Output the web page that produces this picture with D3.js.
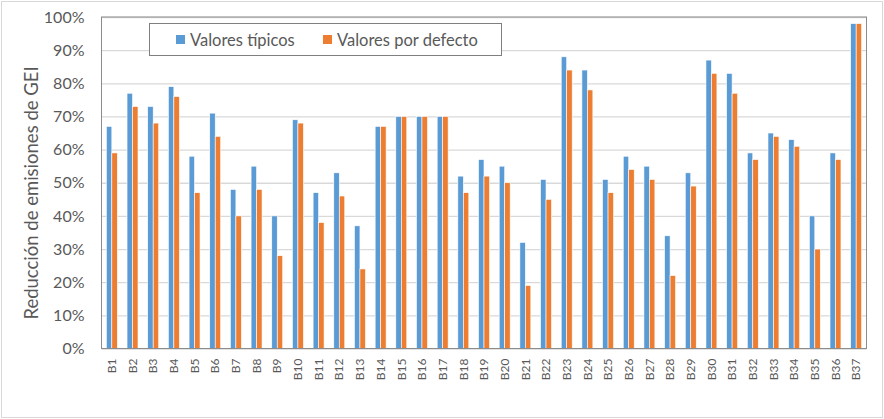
<!DOCTYPE html>
<html>
<head>
<meta charset="utf-8">
<script src="https://cdn.jsdelivr.net/npm/d3@7"></script>
<style>
  html, body { margin: 0; padding: 0; background: #fff; }
  svg { display: block; font-family: Lato, "Liberation Sans", sans-serif; }
</style>
</head>
<body>
<div id="chart"></div>
<script>
/* ---------- Data ---------- */
const categories = d3.range(1, 38).map(i => `B${i}`);
const seriesNames = ["Valores típicos", "Valores por defecto"];
const tipicos = [67, 77, 73, 79, 58, 71, 48, 55, 40, 69, 47, 53, 37, 67, 70, 70, 70, 52, 57, 55,
                 32, 51, 88, 84, 51, 58, 55, 34, 53, 87, 83, 59, 65, 63, 40, 59, 98];
const defecto = [59, 73, 68, 76, 47, 64, 40, 48, 28, 68, 38, 46, 24, 67, 70, 70, 70, 47, 52, 50,
                 19, 45, 84, 78, 47, 54, 51, 22, 49, 83, 77, 57, 64, 61, 30, 57, 98];
const yTicks = d3.range(0, 101, 10);
const colors = ["#5B9BD5", "#ED7D31"];

const rows = categories.map((c, i) => ({ cat: c, values: [tipicos[i], defecto[i]] }));

/* ---------- Layout ---------- */
const W = 884, H = 419;
const M = { top: 17, right: 17.5, bottom: 70.5, left: 101.5 };

const svg = d3.select("#chart").append("svg")
  .attr("width", W).attr("height", H);

// outer chart frame
svg.append("rect")
  .attr("x", 1.5).attr("y", 1.5)
  .attr("width", W - 3).attr("height", H - 3)
  .attr("fill", "#fff").attr("stroke", "#d9d9d9");

const x = d3.scaleBand()
  .domain(categories)
  .range([M.left, W - M.right])
  .paddingInner(0.47)
  .paddingOuter(0.235);

const x1 = d3.scaleBand()
  .domain(d3.range(seriesNames.length))
  .range([0, x.bandwidth()]);

const y = d3.scaleLinear()
  .domain([0, 100])
  .range([H - M.bottom, M.top]);

// grid
svg.append("g")
  .attr("transform", `translate(${M.left},0)`)
  .call(d3.axisLeft(y).tickValues(yTicks).tickSize(-(W - M.left - M.right)).tickFormat(""))
  .call(g => g.select(".domain").remove())
  .call(g => g.selectAll("line").attr("stroke", "#d9d9d9").attr("stroke-width", 1.3));

// bars
svg.append("g")
  .selectAll("g")
  .data(rows)
  .join("g")
    .attr("transform", d => `translate(${x(d.cat)},0)`)
  .selectAll("rect")
  .data(d => d.values.map((v, k) => ({ v, k })))
  .join("rect")
    .attr("x", d => x1(d.k))
    .attr("y", d => y(d.v))
    .attr("width", x1.bandwidth())
    .attr("height", d => y(0) - y(d.v))
    .attr("fill", d => colors[d.k])
    .attr("stroke", "#fff")
    .attr("stroke-width", 0.6);

// plot frame
svg.append("rect")
  .attr("x", M.left).attr("y", M.top)
  .attr("width", W - M.left - M.right)
  .attr("height", H - M.top - M.bottom)
  .attr("fill", "none").attr("stroke", "#8c8c8c").attr("stroke-width", 1);

// y axis labels
svg.append("g")
  .attr("transform", `translate(${M.left},0)`)
  .call(d3.axisLeft(y).tickValues(yTicks).tickSize(0).tickPadding(17).tickFormat(d => `${d}%`))
  .call(g => g.select(".domain").remove())
  .call(g => g.selectAll("text")
    .attr("fill", "#595959")
    .style("font-size", "16px")
    .style("font-family", "Lato, sans-serif"));

// x axis labels (rotated)
svg.append("g")
  .attr("transform", `translate(0,${H - M.bottom})`)
  .call(d3.axisBottom(x).tickSize(0).tickPadding(0))
  .call(g => g.select(".domain").remove())
  .call(g => g.selectAll("text")
    .attr("fill", "#595959")
    .style("font-size", "12px")
    .style("font-family", "Lato, sans-serif")
    .attr("transform", "rotate(-90)")
    .attr("text-anchor", "end")
    .attr("x", -10)
    .attr("y", 0)
    .attr("dy", "0.35em"));

// y axis title
svg.append("text")
  .attr("transform", `translate(38,193) rotate(-90)`)
  .attr("text-anchor", "middle")
  .attr("fill", "#595959")
  .style("font-size", "18.5px")
  .text("Reducción de emisiones de GEI");

// legend
const legend = svg.append("g");
legend.append("rect")
  .attr("x", 149.5).attr("y", 23.5)
  .attr("width", 352).attr("height", 32)
  .attr("fill", "#fff").attr("stroke", "#7f7f7f");

const legendX = [176, 323];
seriesNames.forEach((name, k) => {
  legend.append("rect")
    .attr("x", legendX[k]).attr("y", 35)
    .attr("width", 9).attr("height", 9)
    .attr("fill", colors[k]);
  legend.append("text")
    .attr("x", legendX[k] + 14).attr("y", 40)
    .attr("dy", "0.35em")
    .attr("fill", "#595959")
    .style("font-size", "16.5px")
    .text(name);
});
</script>
</body>
</html>
